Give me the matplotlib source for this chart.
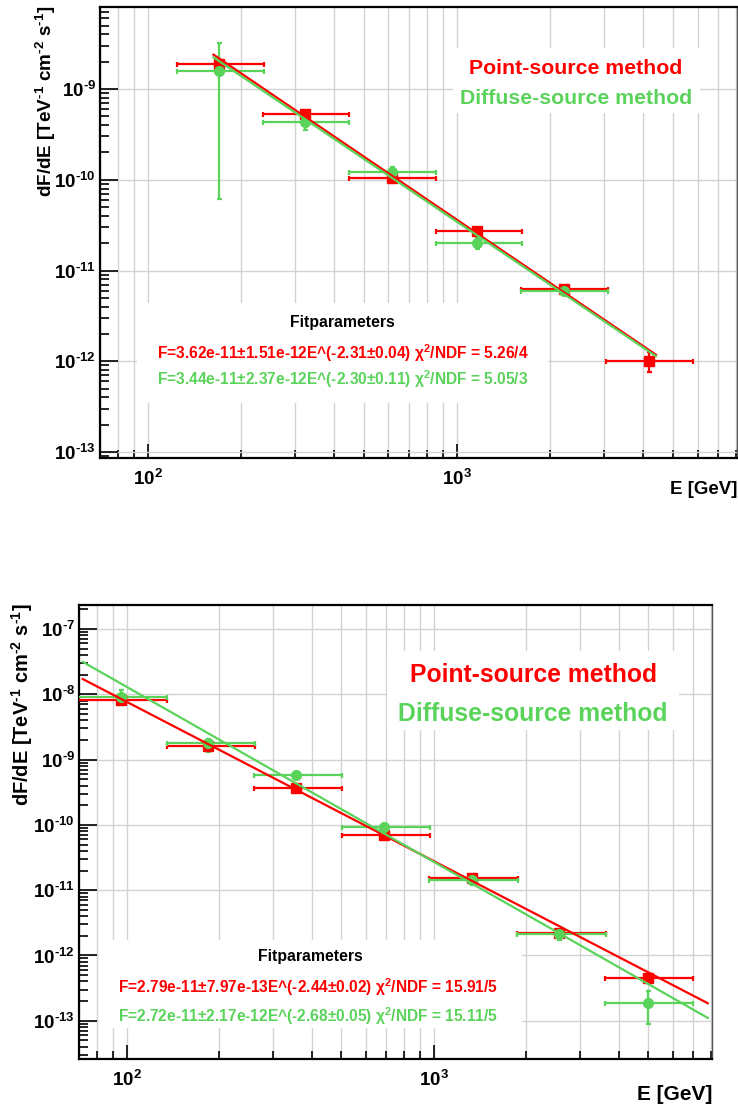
import numpy as np
import matplotlib
matplotlib.use("Agg")
import matplotlib.pyplot as plt
from matplotlib.patches import Rectangle
from matplotlib.ticker import LogLocator, NullFormatter, FixedLocator

plt.rcParams["font.family"] = ["Liberation Sans", "DejaVu Sans"]
plt.rcParams["font.weight"] = "bold"
plt.rcParams["mathtext.fontset"] = "custom"
plt.rcParams["mathtext.rm"] = "Liberation Sans:bold"
plt.rcParams["mathtext.bf"] = "Liberation Sans:bold"
plt.rcParams["mathtext.it"] = "Liberation Serif:italic"
plt.rcParams["mathtext.default"] = "bf"

RED = "#ff0000"
GREEN = "#5ad35a"

# ---------------- upper panel data (E in GeV, flux in TeV^-1 cm^-2 s^-1) ----------------
top_ps_E = [170, 322, 617, 1161, 2218, 4180]
top_ps_Elo = [124, 236, 447, 855, 1611, 3034]
top_ps_Ehi = [237, 447, 855, 1622, 3083, 5808]
top_ps_F = [1.88e-9, 5.3e-10, 1.05e-10, 2.75e-11, 6.18e-12, 1.0e-12]
top_ps_Flo = [1.80e-9, 4.9e-10, 0.98e-10, 2.6e-11, 5.9e-12, 7.6e-13]
top_ps_Fhi = [1.98e-9, 5.7e-10, 1.12e-10, 2.95e-11, 6.5e-12, 1.26e-12]

top_ds_E = [170, 322, 617, 1161, 2218]
top_ds_Elo = [124, 236, 447, 855, 1611]
top_ds_Ehi = [237, 447, 855, 1622, 3083]
top_ds_F = [1.59e-9, 4.37e-10, 1.22e-10, 2.0e-11, 5.9e-12]
top_ds_Flo = [6.2e-11, 3.55e-10, 1.08e-10, 1.72e-11, 5.4e-12]
top_ds_Fhi = [3.2e-9, 5.2e-10, 1.38e-10, 2.3e-11, 6.4e-12]

top_fit_ps = (3.62e-11, -2.31)
top_fit_ds = (3.44e-11, -2.30)
top_fit_range = (163, 4400)
top_fit_text_ps = r"F=3.62e-11±1.51e-12E^(-2.31±0.04) $\chi^{2}$/NDF = 5.26/4"
top_fit_text_ds = r"F=3.44e-11±2.37e-12E^(-2.30±0.11) $\chi^{2}$/NDF = 5.05/3"

# ---------------- lower panel data ----------------
bot_ps_E = [95.6, 184, 355, 687, 1331, 2553, 4977]
bot_ps_Elo = [67.7, 135, 259, 501, 964, 1862, 3605]
bot_ps_Ehi = [135, 261, 501, 970, 1880, 3631, 6982]
bot_ps_F = [8.1e-9, 1.61e-9, 3.67e-10, 7.0e-11, 1.54e-11, 2.22e-12, 4.55e-13]
bot_ps_Flo = [7.3e-9, 1.48e-9, 3.45e-10, 6.5e-11, 1.42e-11, 2.02e-12, 4.1e-13]
bot_ps_Fhi = [9.0e-9, 1.75e-9, 3.9e-10, 7.5e-11, 1.68e-11, 2.45e-12, 5.3e-13]

bot_ds_E = [95.6, 184, 355, 687, 1331, 2553, 4977]
bot_ds_Elo = [67.7, 135, 259, 501, 964, 1862, 3605]
bot_ds_Ehi = [135, 261, 501, 970, 1880, 3631, 6982]
bot_ds_F = [9.0e-9, 1.78e-9, 5.89e-10, 9.3e-11, 1.42e-11, 2.1e-12, 1.89e-13]
bot_ds_Flo = [6.8e-9, 1.3e-9, 5.6e-10, 8.3e-11, 1.2e-11, 1.75e-12, 9.0e-14]
bot_ds_Fhi = [1.15e-8, 2.1e-9, 6.2e-10, 1.04e-10, 1.65e-11, 2.5e-12, 2.84e-13]

bot_fit_ps = (2.79e-11, -2.44)
bot_fit_ds = (2.72e-11, -2.68)
bot_fit_range = (72, 7800)
bot_fit_text_ps = r"F=2.79e-11±7.97e-13E^(-2.44±0.02) $\chi^{2}$/NDF = 15.91/5"
bot_fit_text_ds = r"F=2.72e-11±2.17e-12E^(-2.68±0.05) $\chi^{2}$/NDF = 15.11/5"

YLABEL = r"dF/dE [TeV$^{\text{-}1}$ cm$^{\text{-}2}$ s$^{\text{-}1}$]"

W, H = 738, 1111
fig = plt.figure(figsize=(W / 100, H / 100), dpi=100)


def fx(x):
    return x / W


def fy(y):
    return 1 - y / H


def make_axes(x0, y0, x1, y1):
    return fig.add_axes([fx(x0), fy(y1), fx(x1) - fx(x0), fy(y0) - fy(y1)])


def pow10(d):
    return r"$\mathbf{10^{\text{%d}}}$" % d


def draw_series(ax, E, Elo, Ehi, F, Flo, Fhi, color, marker):
    E = np.array(E); F = np.array(F)
    xerr = [E - np.array(Elo), np.array(Ehi) - E]
    yerr = [F - np.array(Flo), np.array(Fhi) - F]
    ax.errorbar(E, F, xerr=xerr, yerr=yerr, fmt=marker, color=color,
                ms=7, elinewidth=1.6, capsize=1.8, capthick=1.6,
                zorder=4, clip_on=True)


def draw_fit(ax, params, rng, color):
    norm, idx = params
    e = np.geomspace(rng[0], rng[1], 200)
    ax.plot(e, norm * (e / 1000.0) ** idx, color=color, lw=1.6, zorder=5)


def style_axes(ax, xlim, ylim, decades):
    ax.set_xscale("log")
    ax.set_yscale("log")
    ax.set_xlim(*xlim)
    ax.set_ylim(*ylim)
    ax.xaxis.set_major_locator(FixedLocator([1e2, 1e3]))
    ax.xaxis.set_minor_locator(LogLocator(base=10, subs=np.arange(2, 10), numticks=20))
    ax.xaxis.set_minor_formatter(NullFormatter())
    ax.set_xticklabels([pow10(2), pow10(3)])
    ax.yaxis.set_major_locator(FixedLocator([10.0 ** d for d in decades]))
    ax.set_yticklabels([pow10(d) for d in decades])
    ax.yaxis.set_minor_locator(LogLocator(base=10, subs=np.arange(2, 10), numticks=30))
    ax.yaxis.set_minor_formatter(NullFormatter())
    ax.tick_params(which="both", direction="in", top=False, right=False,
                   width=1.2, labelsize=13.5, colors="black")
    ax.tick_params(axis="y", which="major", length=13, pad=3)
    ax.tick_params(axis="y", which="minor", length=6.5)
    ax.tick_params(axis="x", which="major", length=10, pad=8)
    ax.tick_params(axis="x", which="minor", length=5.5)
    ax.grid(True, which="major", axis="both", color="#d2d2d2", lw=1.0)
    ax.grid(True, which="minor", axis="x", color="#d2d2d2", lw=1.0)
    ax.set_axisbelow(True)
    for s in ax.spines.values():
        s.set_linewidth(1.6)
        s.set_color("black")
    ax.spines["right"].set_color("#555555")
    ax.spines["right"].set_linewidth(1.0)


def white_box(ax, x0, y0, x1, y1):
    ax.add_patch(Rectangle((fx(x0), fy(y1)), fx(x1) - fx(x0), fy(y0) - fy(y1),
                           transform=fig.transFigure, facecolor="white",
                           edgecolor="none", zorder=1))


# ---------------- upper panel ----------------
ax1 = make_axes(100, 7, 737, 458)
style_axes(ax1, (70, 8050), (8.6e-14, 8.0e-9), [-13, -12, -11, -10, -9])
white_box(ax1, 453, 48, 700, 113)
white_box(ax1, 137, 303, 548, 403)
draw_series(ax1, top_ps_E, top_ps_Elo, top_ps_Ehi, top_ps_F, top_ps_Flo, top_ps_Fhi, RED, "s")
draw_series(ax1, top_ds_E, top_ds_Elo, top_ds_Ehi, top_ds_F, top_ds_Flo, top_ds_Fhi, GREEN, "o")
draw_fit(ax1, top_fit_ps, top_fit_range, RED)
draw_fit(ax1, top_fit_ds, top_fit_range, GREEN)

fig.text(fx(576), fy(68), "Point-source method", color=RED, fontsize=15.3,
         fontweight="bold", ha="center", va="center")
fig.text(fx(576), fy(99), "Diffuse-source method", color=GREEN, fontsize=15.3,
         fontweight="bold", ha="center", va="center")
fig.text(fx(342), fy(322), "Fitparameters", color="black", fontsize=11.3,
         fontweight="bold", ha="center", va="center")
fig.text(fx(157), fy(353), top_fit_text_ps, color=RED, fontsize=11.2,
         fontweight="bold", ha="left", va="center")
fig.text(fx(157), fy(379), top_fit_text_ds, color=GREEN, fontsize=11.2,
         fontweight="bold", ha="left", va="center")
fig.text(fx(46), fy(6), YLABEL, rotation=90,
         fontsize=13.6, fontweight="bold", ha="center", va="top")
fig.text(fx(737), fy(490), "E [GeV]", fontsize=13.5, fontweight="bold",
         ha="right", va="center")

# ---------------- lower panel ----------------
ax2 = make_axes(79, 605, 712, 1059)
style_axes(ax2, (70, 8050), (2.6e-14, 2.33e-7), [-13, -12, -11, -10, -9, -8, -7])
white_box(ax2, 387, 651, 679, 730)
white_box(ax2, 99, 940, 522, 1028)
draw_series(ax2, bot_ps_E, bot_ps_Elo, bot_ps_Ehi, bot_ps_F, bot_ps_Flo, bot_ps_Fhi, RED, "s")
draw_series(ax2, bot_ds_E, bot_ds_Elo, bot_ds_Ehi, bot_ds_F, bot_ds_Flo, bot_ds_Fhi, GREEN, "o")
draw_fit(ax2, bot_fit_ps, bot_fit_range, RED)
draw_fit(ax2, bot_fit_ds, bot_fit_range, GREEN)

fig.text(fx(533), fy(675), "Point-source method", color=RED, fontsize=17.8,
         fontweight="bold", ha="center", va="center")
fig.text(fx(533), fy(714), "Diffuse-source method", color=GREEN, fontsize=17.8,
         fontweight="bold", ha="center", va="center")
fig.text(fx(310), fy(957), "Fitparameters", color="black", fontsize=11.3,
         fontweight="bold", ha="center", va="center")
fig.text(fx(118), fy(987), bot_fit_text_ps, color=RED, fontsize=11.2,
         fontweight="bold", ha="left", va="center")
fig.text(fx(118), fy(1016), bot_fit_text_ds, color=GREEN, fontsize=11.2,
         fontweight="bold", ha="left", va="center")
fig.text(fx(22), fy(603), YLABEL, rotation=90,
         fontsize=14.4, fontweight="bold", ha="center", va="top")
fig.text(fx(712), fy(1094), "E [GeV]", fontsize=15, fontweight="bold",
         ha="right", va="center")

fig.savefig("out.png", dpi=100, facecolor="white")
